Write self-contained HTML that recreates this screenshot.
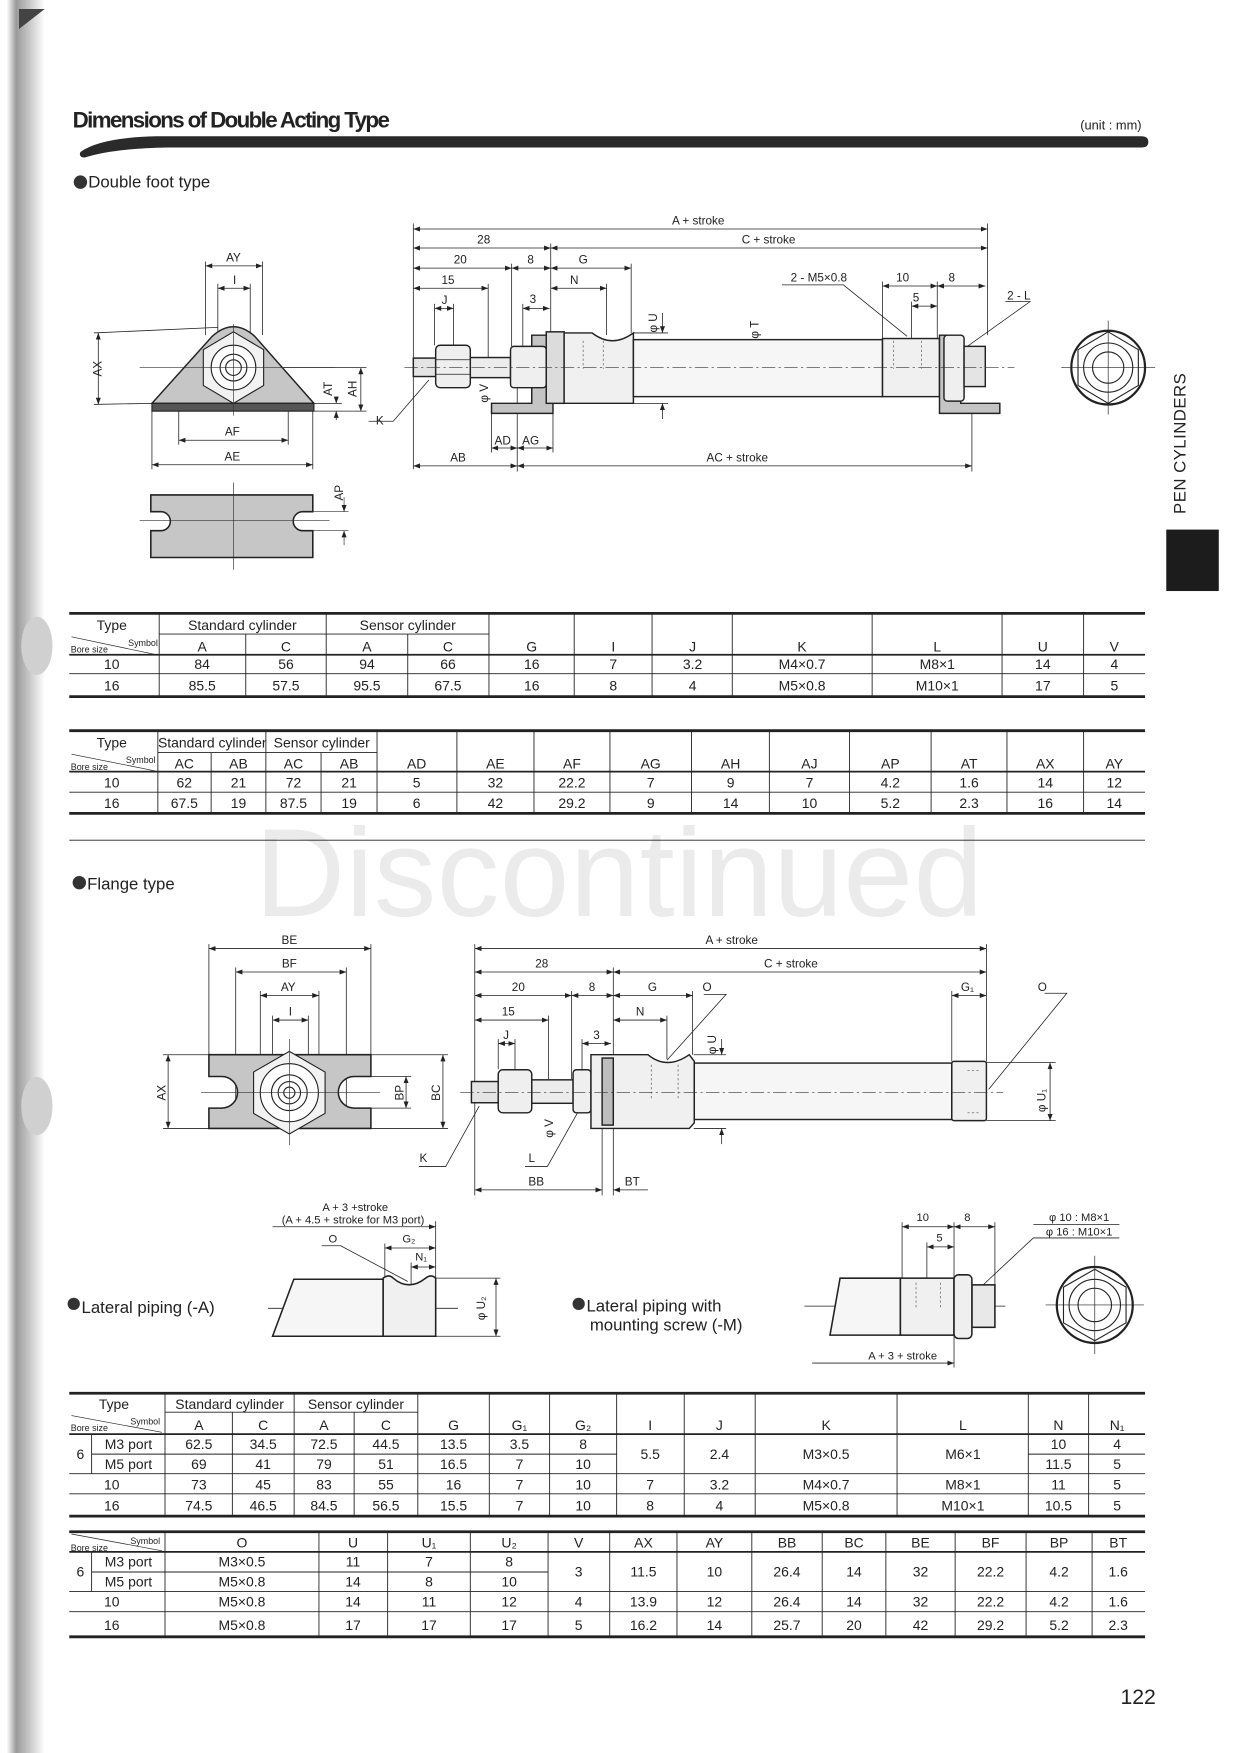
<!DOCTYPE html>
<html><head><meta charset="utf-8"><style>
html,body{margin:0;padding:0;background:#fff;}
svg{display:block;}
text{font-family:"Liberation Sans Narrow","Liberation Sans",sans-serif;fill:#222;}
</style></head><body>
<svg width="1240" height="1753" viewBox="0 0 1110 1569" preserveAspectRatio="none" xmlns="http://www.w3.org/2000/svg">
<defs>
<linearGradient id="edge" x1="0" x2="1" y1="0" y2="0">
<stop offset="0" stop-color="#fff"/><stop offset="0.25" stop-color="#9a9a9a"/><stop offset="0.6" stop-color="#c8c8c8"/><stop offset="1" stop-color="#fff"/>
</linearGradient>
<marker id="a" viewBox="0 0 8 6" refX="8" refY="3" markerWidth="6" markerHeight="4.5" orient="auto-start-reverse" markerUnits="userSpaceOnUse"><path d="M0,0 L8,3 L0,6 Z" fill="#222"/></marker>
</defs>
<rect width="1110" height="1569" fill="#fff"/>
<!-- left scan edge -->
<rect x="6" y="0" width="34" height="1569" fill="url(#edge)"/>
<path d="M17,8 L40,8 L17,26 Z" fill="#444"/>
<ellipse cx="33" cy="578" rx="14" ry="26" fill="#d0d0d0"/>
<ellipse cx="33" cy="990" rx="14" ry="26" fill="#d0d0d0"/>

<!-- title -->
<text x="65" y="114" font-size="20" font-weight="bold" textLength="284">Dimensions of Double Acting Type</text>
<text x="967" y="116" font-size="11.5">(unit : mm)</text>
<path d="M72,136 Q90,123 140,122 L1022,122 Q1028,122 1028,127 Q1028,132 1022,132 L150,132 Q100,133 76,141 Q70,141 72,136 Z" fill="#2a2a2a"/>

<circle cx="72" cy="163" r="6" fill="#333"/>
<text x="79" y="168" font-size="15">Double foot type</text>

<!-- right tab -->
<text transform="translate(1061,460) rotate(-90)" font-size="15" textLength="126">PEN CYLINDERS</text>
<rect x="1044" y="474" width="47" height="55" fill="#1c1c1c"/>

<!-- watermark -->
<text x="228" y="820" font-size="112" fill="#ebebeb" style="fill:#ebebeb" textLength="652" font-family="Liberation Sans, sans-serif">Discontinued</text>

<!-- ========== DOUBLE FOOT DRAWING ========== -->
<g stroke="#222" stroke-width="0.7" fill="none">
<!-- dims top -->
<line x1="370" y1="205" x2="884" y2="205" marker-start="url(#a)" marker-end="url(#a)"/>
<line x1="370" y1="222" x2="493" y2="222" marker-start="url(#a)" marker-end="url(#a)"/>
<line x1="493" y1="222" x2="884" y2="222" marker-start="url(#a)" marker-end="url(#a)"/>
<line x1="370" y1="240" x2="458" y2="240" marker-start="url(#a)" marker-end="url(#a)"/>
<line x1="458" y1="240" x2="493" y2="240" marker-start="url(#a)" marker-end="url(#a)"/>
<line x1="493" y1="240" x2="565" y2="240" marker-start="url(#a)" marker-end="url(#a)"/>
<line x1="370" y1="258" x2="437" y2="258" marker-start="url(#a)" marker-end="url(#a)"/>
<line x1="493" y1="258" x2="543" y2="258" marker-start="url(#a)" marker-end="url(#a)"/>
<line x1="790" y1="256" x2="839" y2="256" marker-start="url(#a)" marker-end="url(#a)"/>
<line x1="839" y1="256" x2="882" y2="256" marker-start="url(#a)" marker-end="url(#a)"/>
<line x1="389" y1="276" x2="406" y2="276" marker-start="url(#a)" marker-end="url(#a)"/>
<line x1="468" y1="276" x2="492" y2="276" marker-start="url(#a)" marker-end="url(#a)"/>
<line x1="816" y1="274" x2="839" y2="274" marker-start="url(#a)" marker-end="url(#a)"/>
<!-- extension lines -->
<line x1="370" y1="200" x2="370" y2="420"/>
<line x1="884" y1="200" x2="884" y2="300"/>
<line x1="493" y1="218" x2="493" y2="300"/>
<line x1="458" y1="236" x2="458" y2="310"/>
<line x1="565" y1="236" x2="565" y2="298"/>
<line x1="437" y1="254" x2="437" y2="320"/>
<line x1="543" y1="254" x2="543" y2="300"/>
<line x1="790" y1="252" x2="790" y2="303"/>
<line x1="839" y1="252" x2="839" y2="303"/>
<line x1="389" y1="272" x2="389" y2="309"/>
<line x1="406" y1="272" x2="406" y2="309"/>
<line x1="468" y1="272" x2="468" y2="310"/>
<line x1="816" y1="270" x2="816" y2="303"/>
<!-- bottom dims -->
<line x1="440" y1="401" x2="463" y2="401" marker-start="url(#a)" marker-end="url(#a)"/>
<line x1="463" y1="401" x2="495" y2="401" marker-start="url(#a)" marker-end="url(#a)"/>
<line x1="370" y1="417" x2="463" y2="417" marker-start="url(#a)" marker-end="url(#a)"/>
<line x1="463" y1="417" x2="870" y2="417" marker-start="url(#a)" marker-end="url(#a)"/>
<line x1="440" y1="370" x2="440" y2="405"/>
<line x1="463" y1="330" x2="463" y2="422"/>
<line x1="495" y1="370" x2="495" y2="405"/>
<line x1="870" y1="370" x2="870" y2="422"/>
<!-- phi dims -->
<line x1="593" y1="280" x2="593" y2="298" marker-end="url(#a)"/>
<line x1="593" y1="361" x2="593" y2="375" marker-start="url(#a)"/>
<line x1="567" y1="298" x2="598" y2="298"/>
<line x1="567" y1="361" x2="598" y2="361"/>
<line x1="682" y1="304" x2="682" y2="355" marker-start="url(#a)" marker-end="url(#a)"/>
<line x1="448" y1="320" x2="448" y2="338"/>
<!-- leaders -->
<polyline points="330,377 352,377 384,340"/>
<polyline points="700,255 755,255 812,301"/>
<polyline points="900,270 922,270 866,310" />
</g>
<g font-size="10.5" text-anchor="middle">
<text x="625" y="201">A + stroke</text>
<text x="433" y="218">28</text><text x="688" y="218">C + stroke</text>
<text x="412" y="236">20</text><text x="475" y="236">8</text><text x="522" y="236">G</text>
<text x="401" y="254">15</text><text x="514" y="254">N</text>
<text x="398" y="272">J</text><text x="477" y="271">3</text>
<text x="733" y="252">2 - M5×0.8</text><text x="808" y="252">10</text><text x="852" y="252">8</text>
<text x="820" y="270">5</text><text x="912" y="268">2 - L</text>
<text x="340" y="380">K</text>
<text x="450" y="398">AD</text><text x="475" y="398">AG</text>
<text x="410" y="413">AB</text><text x="660" y="413">AC + stroke</text>
<text transform="translate(588,289) rotate(-90)">φ U</text>
<text transform="translate(679,295) rotate(-90)">φ T</text>
<text transform="translate(437,352) rotate(-90)">φ V</text>
</g>
<!-- cylinder body -->
<g stroke="#222" stroke-width="1.3">
<rect x="370" y="320.5" width="20" height="16.5" fill="#e4e4e4"/>
<rect x="421" y="320" width="36" height="18" fill="#ececec"/>
<rect x="390" y="309" width="31" height="38" rx="4" fill="#efefef"/>
<line x1="390" y1="322" x2="421" y2="322" stroke-width="0.7"/><line x1="390" y1="335" x2="421" y2="335" stroke-width="0.7"/>
<polygon points="476,300 495,300 495,370 440,370 440,361 476,361" fill="#c4c4c4"/>
<rect x="457" y="310" width="32" height="37" rx="3" fill="#efefef"/>
<rect x="489" y="297" width="16" height="64" fill="#dcdcdc"/>
<path d="M505,298 L530,298 Q548,312 567,298 L567,361 L505,361 Z" fill="#f0f0f0"/>
<rect x="567" y="304" width="223" height="51" fill="#f6f6f6"/>
<rect x="790" y="303" width="51" height="52" fill="#f0f0f0"/>
<polygon points="841,300 860,300 860,361 895,361 895,370 841,370" fill="#c4c4c4"/>
<rect x="845" y="300" width="18" height="59" rx="3" fill="#efefef"/>
<rect x="863" y="310" width="19" height="36" fill="#e4e4e4"/>
</g>
<g stroke="#555" stroke-width="0.6" stroke-dasharray="2,2">
<line x1="522" y1="305" x2="522" y2="330"/><line x1="540" y1="305" x2="540" y2="330"/>
<line x1="800" y1="305" x2="800" y2="330"/><line x1="825" y1="305" x2="825" y2="330"/>
</g>
<line x1="362" y1="329" x2="908" y2="329" stroke="#333" stroke-width="0.6" stroke-dasharray="12,3,2,3"/>
<!-- end view -->
<g stroke="#222" fill="none">
<circle cx="992" cy="329" r="33" stroke-width="2"/>
<polygon points="992,297 1019,313 1019,345 992,361 965,345 965,313" stroke-width="1"/>
<circle cx="992" cy="329" r="22" stroke-width="1"/>
<circle cx="992" cy="329" r="14" stroke-width="1"/>
<line x1="950" y1="329" x2="1034" y2="329" stroke-width="0.6"/>
<line x1="992" y1="287" x2="992" y2="371" stroke-width="0.6"/>
</g>
<!-- foot front view -->
<g stroke="#222" fill="none" stroke-width="0.7">
<line x1="184" y1="238" x2="235" y2="238" marker-start="url(#a)" marker-end="url(#a)"/>
<line x1="195" y1="258" x2="224" y2="258" marker-start="url(#a)" marker-end="url(#a)"/>
<line x1="184" y1="234" x2="184" y2="300"/><line x1="235" y1="234" x2="235" y2="300"/>
<line x1="195" y1="254" x2="195" y2="310"/><line x1="224" y1="254" x2="224" y2="310"/>
<line x1="88" y1="298" x2="88" y2="362" marker-start="url(#a)" marker-end="url(#a)"/>
<line x1="84" y1="298" x2="195" y2="293"/><line x1="84" y1="362" x2="136" y2="361"/>
<line x1="301" y1="355" x2="301" y2="361" marker-end="url(#a)"/>
<line x1="301" y1="368" x2="301" y2="376" marker-start="url(#a)"/>
<line x1="323" y1="329" x2="323" y2="368" marker-start="url(#a)" marker-end="url(#a)"/>
<line x1="230" y1="329" x2="328" y2="329"/><line x1="281" y1="361" x2="306" y2="361"/><line x1="281" y1="368" x2="328" y2="368"/>
<line x1="160" y1="394" x2="258" y2="394" marker-start="url(#a)" marker-end="url(#a)"/>
<line x1="136" y1="416" x2="280" y2="416" marker-start="url(#a)" marker-end="url(#a)"/>
<line x1="160" y1="361" x2="160" y2="398"/><line x1="258" y1="361" x2="258" y2="398"/>
<line x1="136" y1="368" x2="136" y2="420"/><line x1="280" y1="368" x2="280" y2="420"/>
</g>
<path d="M136,361 L190,301 Q209,284 228,301 L281,361 Z" fill="#c6c6c6" stroke="#222" stroke-width="1.3"/>
<rect x="136" y="361" width="145" height="7" fill="#555" stroke="#222"/>
<g stroke="#222" stroke-width="1">
<polygon points="209,297 236,313 236,345 209,361 182,345 182,313" fill="#f2f2f2"/>
<circle cx="209" cy="329" r="20" fill="#fff"/><circle cx="209" cy="329" r="12" fill="#fff"/><circle cx="209" cy="329" r="7" fill="#fff"/>
</g>
<line x1="209" y1="290" x2="209" y2="372" stroke="#333" stroke-width="0.6"/>
<line x1="125" y1="329" x2="300" y2="329" stroke="#333" stroke-width="0.6"/>
<g font-size="10.5" text-anchor="middle">
<text x="209" y="234">AY</text><text x="210" y="254">I</text>
<text transform="translate(91,330) rotate(-90)">AX</text>
<text transform="translate(297,348) rotate(-90)">AT</text>
<text transform="translate(319,348) rotate(-90)">AH</text>
<text x="208" y="390">AF</text><text x="208" y="412">AE</text>
<text transform="translate(307,441) rotate(-90)">AP</text>
</g>
<!-- foot plate bottom view -->
<path d="M135,443 H280 V458 H271 A8.5,8.5 0 0 0 271,475 H280 V499 H135 V475 H144 A8.5,8.5 0 0 0 144,458 H135 Z" fill="#c6c6c6" stroke="#222" stroke-width="1.4"/>
<g stroke="#333" stroke-width="0.6" fill="none">
<line x1="209" y1="432" x2="209" y2="510"/><line x1="125" y1="466" x2="295" y2="466"/>
<line x1="280" y1="458" x2="312" y2="458"/><line x1="280" y1="475" x2="312" y2="475"/>
<line x1="308" y1="445" x2="308" y2="458" marker-end="url(#a)"/><line x1="308" y1="475" x2="308" y2="488" marker-start="url(#a)"/>
</g>

<!-- ========== TABLE 1 ========== -->
<g stroke="#222" fill="none">
<line x1="62" y1="549" x2="1025" y2="549" stroke-width="2.5"/>
<line x1="142.5" y1="567.5" x2="437.7" y2="567.5" stroke-width="0.8"/>
<line x1="62" y1="586" x2="1025" y2="586" stroke-width="1.6"/>
<line x1="62" y1="603" x2="1025" y2="603" stroke-width="0.8"/>
<line x1="62" y1="623.5" x2="1025" y2="623.5" stroke-width="2.5"/>
<line x1="64" y1="570" x2="140" y2="586" stroke-width="0.6"/>
<g stroke-width="0.8">
<line x1="142.5" y1="549" x2="142.5" y2="623"/><line x1="220" y1="567.5" x2="220" y2="623"/>
<line x1="292" y1="549" x2="292" y2="623"/><line x1="365" y1="567.5" x2="365" y2="623"/>
<line x1="437.7" y1="549" x2="437.7" y2="623"/><line x1="514" y1="549" x2="514" y2="623"/>
<line x1="583.7" y1="549" x2="583.7" y2="623"/><line x1="655.5" y1="549" x2="655.5" y2="623"/>
<line x1="780.7" y1="549" x2="780.7" y2="623"/><line x1="897" y1="549" x2="897" y2="623"/>
<line x1="970" y1="549" x2="970" y2="623"/>
</g></g>
<g font-size="12.5" text-anchor="middle">
<text x="100" y="564">Type</text><text x="217" y="564">Standard cylinder</text><text x="365" y="564">Sensor cylinder</text>
<text x="80" y="584" font-size="8">Bore size</text><text x="128" y="578" font-size="8">Symbol</text>
<text x="181" y="583">A</text><text x="256" y="583">C</text><text x="328.5" y="583">A</text><text x="401" y="583">C</text>
<text x="476" y="583">G</text><text x="549" y="583">I</text><text x="620" y="583">J</text><text x="718" y="583">K</text><text x="839" y="583">L</text><text x="933.5" y="583">U</text><text x="997.5" y="583">V</text>
<text x="100" y="599">10</text><text x="181" y="599">84</text><text x="256" y="599">56</text><text x="328.5" y="599">94</text><text x="401" y="599">66</text><text x="476" y="599">16</text><text x="549" y="599">7</text><text x="620" y="599">3.2</text><text x="718" y="599">M4×0.7</text><text x="839" y="599">M8×1</text><text x="933.5" y="599">14</text><text x="997.5" y="599">4</text>
<text x="100" y="618">16</text><text x="181" y="618">85.5</text><text x="256" y="618">57.5</text><text x="328.5" y="618">95.5</text><text x="401" y="618">67.5</text><text x="476" y="618">16</text><text x="549" y="618">8</text><text x="620" y="618">4</text><text x="718" y="618">M5×0.8</text><text x="839" y="618">M10×1</text><text x="933.5" y="618">17</text><text x="997.5" y="618">5</text>
</g>

<!-- ========== TABLE 2 ========== -->
<g stroke="#222" fill="none">
<line x1="62" y1="654" x2="1025" y2="654" stroke-width="2.5"/>
<line x1="141.3" y1="673.6" x2="337.5" y2="673.6" stroke-width="0.8"/>
<line x1="62" y1="690.6" x2="1025" y2="690.6" stroke-width="1.6"/>
<line x1="62" y1="709" x2="1025" y2="709" stroke-width="0.8"/>
<line x1="62" y1="728" x2="1025" y2="728" stroke-width="2.5"/>
<line x1="62" y1="752" x2="1025" y2="752" stroke-width="0.7"/>
<line x1="64" y1="675" x2="139" y2="690" stroke-width="0.6"/>
<g stroke-width="0.8">
<line x1="141.3" y1="654" x2="141.3" y2="728"/><line x1="189" y1="673.6" x2="189" y2="728"/>
<line x1="238" y1="654" x2="238" y2="728"/><line x1="287.4" y1="673.6" x2="287.4" y2="728"/>
<line x1="337.5" y1="654" x2="337.5" y2="728"/><line x1="409" y1="654" x2="409" y2="728"/>
<line x1="478" y1="654" x2="478" y2="728"/><line x1="546" y1="654" x2="546" y2="728"/>
<line x1="619" y1="654" x2="619" y2="728"/><line x1="688.7" y1="654" x2="688.7" y2="728"/>
<line x1="760.5" y1="654" x2="760.5" y2="728"/><line x1="833.5" y1="654" x2="833.5" y2="728"/>
<line x1="901.4" y1="654" x2="901.4" y2="728"/><line x1="970" y1="654" x2="970" y2="728"/>
</g></g>
<g font-size="12.5" text-anchor="middle">
<text x="100" y="669">Type</text><text x="190" y="669">Standard cylinder</text><text x="288" y="669">Sensor cylinder</text>
<text x="80" y="689" font-size="8">Bore size</text><text x="126" y="683" font-size="8">Symbol</text>
<text x="165" y="688">AC</text><text x="213.5" y="688">AB</text><text x="262.7" y="688">AC</text><text x="312.5" y="688">AB</text>
<text x="373" y="688">AD</text><text x="443.5" y="688">AE</text><text x="512" y="688">AF</text><text x="582.5" y="688">AG</text><text x="654" y="688">AH</text><text x="724.6" y="688">AJ</text><text x="797" y="688">AP</text><text x="867.5" y="688">AT</text><text x="935.7" y="688">AX</text><text x="997.5" y="688">AY</text>
<text x="100" y="705">10</text><text x="165" y="705">62</text><text x="213.5" y="705">21</text><text x="262.7" y="705">72</text><text x="312.5" y="705">21</text><text x="373" y="705">5</text><text x="443.5" y="705">32</text><text x="512" y="705">22.2</text><text x="582.5" y="705">7</text><text x="654" y="705">9</text><text x="724.6" y="705">7</text><text x="797" y="705">4.2</text><text x="867.5" y="705">1.6</text><text x="935.7" y="705">14</text><text x="997.5" y="705">12</text>
<text x="100" y="723">16</text><text x="165" y="723">67.5</text><text x="213.5" y="723">19</text><text x="262.7" y="723">87.5</text><text x="312.5" y="723">19</text><text x="373" y="723">6</text><text x="443.5" y="723">42</text><text x="512" y="723">29.2</text><text x="582.5" y="723">9</text><text x="654" y="723">14</text><text x="724.6" y="723">10</text><text x="797" y="723">5.2</text><text x="867.5" y="723">2.3</text><text x="935.7" y="723">16</text><text x="997.5" y="723">14</text>
</g>

<circle cx="71" cy="790" r="6" fill="#333"/>
<text x="78" y="796" font-size="15">Flange type</text>

<!-- ========== FLANGE DRAWING ========== -->
<g stroke="#222" stroke-width="0.7" fill="none">
<line x1="187" y1="849" x2="332" y2="849" marker-start="url(#a)" marker-end="url(#a)"/>
<line x1="211" y1="870" x2="310" y2="870" marker-start="url(#a)" marker-end="url(#a)"/>
<line x1="233" y1="891" x2="285.5" y2="891" marker-start="url(#a)" marker-end="url(#a)"/>
<line x1="244" y1="913" x2="276" y2="913" marker-start="url(#a)" marker-end="url(#a)"/>
<line x1="187" y1="845" x2="187" y2="944"/><line x1="332" y1="845" x2="332" y2="944"/>
<line x1="211" y1="866" x2="211" y2="1010"/><line x1="310" y1="866" x2="310" y2="1010"/>
<line x1="233" y1="887" x2="233" y2="960"/><line x1="285.5" y1="887" x2="285.5" y2="960"/>
<line x1="244" y1="909" x2="244" y2="965"/><line x1="276" y1="909" x2="276" y2="965"/>
<line x1="150.5" y1="944" x2="150.5" y2="1010" marker-start="url(#a)" marker-end="url(#a)"/>
<line x1="146" y1="944" x2="187" y2="944"/><line x1="146" y1="1010" x2="187" y2="1010"/>
<line x1="363.5" y1="963.5" x2="363.5" y2="991.8" marker-start="url(#a)" marker-end="url(#a)"/>
<line x1="396.5" y1="944" x2="396.5" y2="1010" marker-start="url(#a)" marker-end="url(#a)"/>
<line x1="332" y1="963.5" x2="368" y2="963.5"/><line x1="332" y1="991.8" x2="368" y2="991.8"/>
<line x1="332" y1="944" x2="401" y2="944"/><line x1="332" y1="1010" x2="401" y2="1010"/>
<!-- cylinder dims -->
<line x1="425" y1="849" x2="883" y2="849" marker-start="url(#a)" marker-end="url(#a)"/>
<line x1="425" y1="870" x2="549" y2="870" marker-start="url(#a)" marker-end="url(#a)"/>
<line x1="549" y1="870" x2="883" y2="870" marker-start="url(#a)" marker-end="url(#a)"/>
<line x1="425" y1="891" x2="511.7" y2="891" marker-start="url(#a)" marker-end="url(#a)"/>
<line x1="511.7" y1="891" x2="549" y2="891" marker-start="url(#a)" marker-end="url(#a)"/>
<line x1="549" y1="891" x2="620" y2="891" marker-start="url(#a)" marker-end="url(#a)"/>
<line x1="852" y1="891" x2="883" y2="891" marker-start="url(#a)" marker-end="url(#a)"/>
<line x1="425" y1="913" x2="491" y2="913" marker-start="url(#a)" marker-end="url(#a)"/>
<line x1="549" y1="913" x2="597" y2="913" marker-start="url(#a)" marker-end="url(#a)"/>
<line x1="446" y1="934" x2="461" y2="934" marker-start="url(#a)" marker-end="url(#a)"/>
<line x1="521" y1="934" x2="547" y2="934" marker-start="url(#a)" marker-end="url(#a)"/>
<line x1="425" y1="845" x2="425" y2="1070"/><line x1="883" y1="845" x2="883" y2="950"/>
<line x1="549" y1="866" x2="549" y2="1070"/><line x1="511.7" y1="887" x2="511.7" y2="966"/>
<line x1="620" y1="887" x2="620" y2="944"/><line x1="852" y1="887" x2="852" y2="950"/>
<line x1="491" y1="909" x2="491" y2="966"/><line x1="597" y1="909" x2="597" y2="948"/>
<line x1="446" y1="930" x2="446" y2="957"/><line x1="461" y1="930" x2="461" y2="957"/>
<line x1="521" y1="930" x2="521" y2="957"/><line x1="539" y1="1010" x2="539" y2="1070"/>
<line x1="425" y1="1065" x2="539" y2="1065" marker-start="url(#a)" marker-end="url(#a)"/>
<line x1="549" y1="1065" x2="580" y2="1065" marker-start="url(#a)"/>
<line x1="621" y1="944" x2="650" y2="944"/><line x1="621" y1="1010" x2="650" y2="1010"/>
<line x1="646" y1="930" x2="646" y2="944" marker-end="url(#a)"/><line x1="646" y1="1010" x2="646" y2="1024" marker-start="url(#a)"/>
<line x1="883" y1="951" x2="945" y2="951"/><line x1="883" y1="1003" x2="945" y2="1003"/>
<line x1="940" y1="951" x2="940" y2="1003" marker-start="url(#a)" marker-end="url(#a)"/>
<line x1="499" y1="985" x2="499" y2="966.5" marker-end="url(#a)"/>
<polyline points="630,890 650,890 597,949"/>
<polyline points="935,889 955,889 885,975"/>
<polyline points="375,1044 399,1044 429,990"/>
<polyline points="470,1044 490,1044 517,996"/>
</g>
<path d="M187,944 H332 V963.5 H317 A14,14 0 0 0 317,991.8 H332 V1010 H187 V991.8 H198.5 A14,14 0 0 0 198.5,963.5 H187 Z" fill="#c6c6c6" stroke="#222" stroke-width="1.4"/>
<g stroke="#222" stroke-width="1">
<polygon points="259,941 291,959.5 291,996.5 259,1015 227,996.5 227,959.5" fill="#f2f2f2"/>
<circle cx="259" cy="978" r="26" fill="#fff"/><circle cx="259" cy="978" r="16" fill="#fff"/><circle cx="259" cy="978" r="10" fill="#fff"/><circle cx="259" cy="978" r="5" fill="#fff"/>
</g>
<line x1="259" y1="930" x2="259" y2="1025" stroke="#333" stroke-width="0.6"/>
<line x1="180" y1="978" x2="340" y2="978" stroke="#333" stroke-width="0.6"/>
<g stroke="#222" stroke-width="1.3">
<rect x="422" y="968" width="24" height="19" fill="#e4e4e4"/>
<rect x="476" y="966.5" width="37" height="21" fill="#ececec"/>
<rect x="446" y="957.5" width="30" height="38.5" rx="4" fill="#efefef"/>
<rect x="513" y="957.5" width="16" height="38.5" rx="3" fill="#efefef"/>
<path d="M529,944 L580,944 Q597,958 617,944 L621.5,950 L621.5,1005 L617,1010 L529,1010 Z" fill="#f0f0f0"/>
<rect x="539" y="947" width="10" height="60" fill="#bdbdbd"/>
<rect x="621.5" y="951.5" width="230.5" height="50.5" fill="#f6f6f6"/>
<rect x="852" y="950" width="31" height="53" rx="2" fill="#f0f0f0"/>
</g>
<g stroke="#555" stroke-width="0.6" stroke-dasharray="2,2">
<line x1="583" y1="953" x2="583" y2="985"/><line x1="607" y1="953" x2="607" y2="985"/>
<line x1="866" y1="958" x2="878" y2="958"/><line x1="866" y1="996" x2="878" y2="996"/>
</g>
<line x1="412" y1="978" x2="898" y2="978" stroke="#333" stroke-width="0.6" stroke-dasharray="12,3,2,3"/>
<g font-size="10.5" text-anchor="middle">
<text x="259" y="845">BE</text><text x="259" y="866">BF</text><text x="258" y="887">AY</text><text x="260" y="909">I</text>
<text transform="translate(148,978) rotate(-90)">AX</text>
<text transform="translate(361,978) rotate(-90)">BP</text>
<text transform="translate(394,978) rotate(-90)">BC</text>
<text x="655" y="845">A + stroke</text>
<text x="485" y="866">28</text><text x="708" y="866">C + stroke</text>
<text x="464" y="887">20</text><text x="530" y="887">8</text><text x="584" y="887">G</text><text x="633" y="887">O</text>
<text x="866" y="887">G₁</text><text x="933" y="887">O</text>
<text x="455" y="909">15</text><text x="573" y="909">N</text>
<text x="453" y="930">J</text><text x="534" y="930">3</text>
<text transform="translate(641,935) rotate(-90)">φ U</text>
<text transform="translate(936,985) rotate(-90)">φ U₁</text>
<text transform="translate(495,1010) rotate(-90)">φ V</text>
<text x="379" y="1040">K</text><text x="476" y="1040">L</text>
<text x="480" y="1061">BB</text><text x="566" y="1061">BT</text>
</g>

<!-- ========== LATERAL PIPING ========== -->
<circle cx="66" cy="1167" r="5.5" fill="#333"/>
<text x="73" y="1175" font-size="15">Lateral piping (-A)</text>
<circle cx="518" cy="1167" r="5.5" fill="#333"/>
<text x="525" y="1174" font-size="15">Lateral piping with</text>
<text x="528" y="1191" font-size="15">mounting screw (-M)</text>
<g stroke="#222" stroke-width="0.7" fill="none">
<line x1="244" y1="1098" x2="390" y2="1098" marker-end="url(#a)"/>
<line x1="390" y1="1093" x2="390" y2="1144"/><line x1="344.5" y1="1113" x2="344.5" y2="1147"/><line x1="368" y1="1130" x2="368" y2="1150"/>
<line x1="344.5" y1="1117" x2="390" y2="1117" marker-start="url(#a)" marker-end="url(#a)"/>
<line x1="368" y1="1134" x2="390" y2="1134" marker-start="url(#a)" marker-end="url(#a)"/>
<polyline points="288,1115 305,1115 365,1147"/>
<line x1="390" y1="1144" x2="448" y2="1144"/><line x1="390" y1="1196" x2="448" y2="1196"/>
<line x1="444" y1="1144" x2="444" y2="1196" marker-start="url(#a)" marker-end="url(#a)"/>
<line x1="240" y1="1171" x2="410" y2="1171"/>
</g>
<g stroke="#222" stroke-width="1.4">
<path d="M263,1145 L343,1145 L343,1196 L244,1196 Z" fill="#f6f6f6"/>
<path d="M343,1144 Q348,1140 352,1144 Q366,1156 381,1144 Q386,1140 390,1144 L390,1196 L343,1196 Z" fill="#f0f0f0"/>
</g>
<g font-size="10" text-anchor="middle">
<text x="318" y="1084">A + 3 +stroke</text>
<text x="316" y="1095">(A + 4.5 + stroke for M3 port)</text>
<text x="298" y="1112">O</text><text x="366" y="1112">G₂</text><text x="377" y="1128">N₁</text>
<text transform="translate(434,1171) rotate(-90)" font-size="10.5">φ U₂</text>
</g>
<g stroke="#222" stroke-width="0.7" fill="none">
<line x1="807.5" y1="1098" x2="854" y2="1098" marker-start="url(#a)" marker-end="url(#a)"/>
<line x1="854" y1="1098" x2="890.6" y2="1098" marker-start="url(#a)" marker-end="url(#a)"/>
<line x1="829.7" y1="1116" x2="854" y2="1116" marker-start="url(#a)" marker-end="url(#a)"/>
<line x1="807.5" y1="1094" x2="807.5" y2="1144"/><line x1="854" y1="1094" x2="854" y2="1224"/><line x1="890.6" y1="1094" x2="890.6" y2="1152"/>
<line x1="829.7" y1="1112" x2="829.7" y2="1150"/>
<line x1="727" y1="1220" x2="854" y2="1220" marker-end="url(#a)"/>
<polyline points="1002,1108 925,1108 879,1151"/>
<line x1="925" y1="1096" x2="1002" y2="1096"/>
<line x1="720" y1="1169" x2="900" y2="1169"/>
</g>
<g stroke="#222" stroke-width="1.4">
<path d="M752,1144 L806,1144 L806,1195 L743,1195 Z" fill="#f6f6f6"/>
<rect x="806" y="1144" width="48" height="51" fill="#f0f0f0"/>
<rect x="870" y="1150" width="20.6" height="38" fill="#e8e8e8"/>
<rect x="854" y="1141" width="16" height="57" rx="4" fill="#efefef"/>
</g>
<g stroke="#555" stroke-width="0.6" stroke-dasharray="2,2"><line x1="820" y1="1148" x2="820" y2="1170"/><line x1="842" y1="1148" x2="842" y2="1170"/></g>
<g font-size="10" text-anchor="middle">
<text x="826" y="1093">10</text><text x="866" y="1093">8</text><text x="841" y="1111">5</text>
<text x="966" y="1093">φ 10 : M8×1</text><text x="966" y="1106">φ 16 : M10×1</text>
<text x="808" y="1217">A + 3 + stroke</text>
</g>
<g stroke="#222" fill="none">
<circle cx="980" cy="1168" r="34" stroke-width="2"/>
<polygon points="980,1136 1008,1152 1008,1184 980,1200 952,1184 952,1152" stroke-width="1"/>
<circle cx="980" cy="1168" r="23" stroke-width="1"/>
<circle cx="980" cy="1168" r="15" stroke-width="1"/>
<line x1="936" y1="1168" x2="1024" y2="1168" stroke-width="0.6"/>
<line x1="980" y1="1124" x2="980" y2="1212" stroke-width="0.6"/>
</g>

<!-- ========== TABLE 3 ========== -->
<g stroke="#222" fill="none">
<line x1="62" y1="1247" x2="1025" y2="1247" stroke-width="2.5"/>
<line x1="147.7" y1="1264" x2="374" y2="1264" stroke-width="0.8"/>
<line x1="62" y1="1283.6" x2="1025" y2="1283.6" stroke-width="1.6"/>
<line x1="82" y1="1301.5" x2="552" y2="1301.5" stroke-width="0.8"/>
<line x1="920.5" y1="1301.5" x2="1025" y2="1301.5" stroke-width="0.8"/>
<line x1="62" y1="1319" x2="1025" y2="1319" stroke-width="0.8"/>
<line x1="62" y1="1337" x2="1025" y2="1337" stroke-width="0.8"/>
<line x1="62" y1="1357" x2="1025" y2="1357" stroke-width="2.5"/>
<line x1="64" y1="1267" x2="145" y2="1282" stroke-width="0.6"/>
<g stroke-width="0.8">
<line x1="82" y1="1283.6" x2="82" y2="1319"/>
<line x1="147.7" y1="1247" x2="147.7" y2="1357"/><line x1="208" y1="1264" x2="208" y2="1357"/>
<line x1="263.3" y1="1247" x2="263.3" y2="1357"/><line x1="317" y1="1264" x2="317" y2="1357"/>
<line x1="374" y1="1247" x2="374" y2="1357"/><line x1="438" y1="1247" x2="438" y2="1357"/>
<line x1="492" y1="1247" x2="492" y2="1357"/><line x1="552" y1="1247" x2="552" y2="1357"/>
<line x1="612.5" y1="1247" x2="612.5" y2="1357"/><line x1="676" y1="1247" x2="676" y2="1357"/>
<line x1="803" y1="1247" x2="803" y2="1357"/><line x1="920.5" y1="1247" x2="920.5" y2="1357"/>
<line x1="974.5" y1="1247" x2="974.5" y2="1357"/>
</g></g>
<g font-size="12.5" text-anchor="middle">
<text x="102" y="1261">Type</text><text x="205.5" y="1261">Standard cylinder</text><text x="318.6" y="1261">Sensor cylinder</text>
<text x="80" y="1281" font-size="8">Bore size</text><text x="130" y="1275" font-size="8">Symbol</text>
<text x="178" y="1280">A</text><text x="235.6" y="1280">C</text><text x="290" y="1280">A</text><text x="345.5" y="1280">C</text>
<text x="406" y="1280">G</text><text x="465" y="1280">G₁</text><text x="522" y="1280">G₂</text><text x="582" y="1280">I</text><text x="644" y="1280">J</text><text x="739.5" y="1280">K</text><text x="862" y="1280">L</text><text x="947.5" y="1280">N</text><text x="1000" y="1280">N₁</text>
<text x="72" y="1306">6</text>
<text x="115" y="1297">M3 port</text><text x="178" y="1297">62.5</text><text x="235.6" y="1297">34.5</text><text x="290" y="1297">72.5</text><text x="345.5" y="1297">44.5</text><text x="406" y="1297">13.5</text><text x="465" y="1297">3.5</text><text x="522" y="1297">8</text><text x="947.5" y="1297">10</text><text x="1000" y="1297">4</text>
<text x="115" y="1315">M5 port</text><text x="178" y="1315">69</text><text x="235.6" y="1315">41</text><text x="290" y="1315">79</text><text x="345.5" y="1315">51</text><text x="406" y="1315">16.5</text><text x="465" y="1315">7</text><text x="522" y="1315">10</text><text x="947.5" y="1315">11.5</text><text x="1000" y="1315">5</text>
<text x="582" y="1306">5.5</text><text x="644" y="1306">2.4</text><text x="739.5" y="1306">M3×0.5</text><text x="862" y="1306">M6×1</text>
<text x="100" y="1333">10</text><text x="178" y="1333">73</text><text x="235.6" y="1333">45</text><text x="290" y="1333">83</text><text x="345.5" y="1333">55</text><text x="406" y="1333">16</text><text x="465" y="1333">7</text><text x="522" y="1333">10</text><text x="582" y="1333">7</text><text x="644" y="1333">3.2</text><text x="739.5" y="1333">M4×0.7</text><text x="862" y="1333">M8×1</text><text x="947.5" y="1333">11</text><text x="1000" y="1333">5</text>
<text x="100" y="1352">16</text><text x="178" y="1352">74.5</text><text x="235.6" y="1352">46.5</text><text x="290" y="1352">84.5</text><text x="345.5" y="1352">56.5</text><text x="406" y="1352">15.5</text><text x="465" y="1352">7</text><text x="522" y="1352">10</text><text x="582" y="1352">8</text><text x="644" y="1352">4</text><text x="739.5" y="1352">M5×0.8</text><text x="862" y="1352">M10×1</text><text x="947.5" y="1352">10.5</text><text x="1000" y="1352">5</text>
</g>

<!-- ========== TABLE 4 ========== -->
<g stroke="#222" fill="none">
<line x1="62" y1="1371" x2="1025" y2="1371" stroke-width="2.5"/>
<line x1="62" y1="1389" x2="1025" y2="1389" stroke-width="1.6"/>
<line x1="82" y1="1407" x2="490.6" y2="1407" stroke-width="0.8"/>
<line x1="62" y1="1424.5" x2="1025" y2="1424.5" stroke-width="0.8"/>
<line x1="62" y1="1442.5" x2="1025" y2="1442.5" stroke-width="0.8"/>
<line x1="62" y1="1465" x2="1025" y2="1465" stroke-width="2.5"/>
<line x1="64" y1="1373" x2="145" y2="1388" stroke-width="0.6"/>
<g stroke-width="0.8">
<line x1="82" y1="1389" x2="82" y2="1424.5"/>
<line x1="147.7" y1="1371" x2="147.7" y2="1465"/><line x1="285.5" y1="1371" x2="285.5" y2="1465"/>
<line x1="347" y1="1371" x2="347" y2="1465"/><line x1="421" y1="1371" x2="421" y2="1465"/>
<line x1="490.6" y1="1371" x2="490.6" y2="1465"/><line x1="545.8" y1="1371" x2="545.8" y2="1465"/>
<line x1="606" y1="1371" x2="606" y2="1465"/><line x1="673" y1="1371" x2="673" y2="1465"/>
<line x1="736" y1="1371" x2="736" y2="1465"/><line x1="793" y1="1371" x2="793" y2="1465"/>
<line x1="855" y1="1371" x2="855" y2="1465"/><line x1="918.5" y1="1371" x2="918.5" y2="1465"/>
<line x1="977.6" y1="1371" x2="977.6" y2="1465"/>
</g></g>
<g font-size="12.5" text-anchor="middle">
<text x="80" y="1388" font-size="8">Bore size</text><text x="130" y="1382" font-size="8">Symbol</text>
<text x="216.6" y="1385">O</text><text x="316" y="1385">U</text><text x="384" y="1385">U₁</text><text x="455.8" y="1385">U₂</text><text x="518" y="1385">V</text><text x="576" y="1385">AX</text><text x="639.5" y="1385">AY</text><text x="704.5" y="1385">BB</text><text x="764.5" y="1385">BC</text><text x="824" y="1385">BE</text><text x="886.7" y="1385">BF</text><text x="948" y="1385">BP</text><text x="1001" y="1385">BT</text>
<text x="72" y="1411">6</text>
<text x="115" y="1402">M3 port</text><text x="216.6" y="1402">M3×0.5</text><text x="316" y="1402">11</text><text x="384" y="1402">7</text><text x="455.8" y="1402">8</text>
<text x="115" y="1420">M5 port</text><text x="216.6" y="1420">M5×0.8</text><text x="316" y="1420">14</text><text x="384" y="1420">8</text><text x="455.8" y="1420">10</text>
<text x="518" y="1411">3</text><text x="576" y="1411">11.5</text><text x="639.5" y="1411">10</text><text x="704.5" y="1411">26.4</text><text x="764.5" y="1411">14</text><text x="824" y="1411">32</text><text x="886.7" y="1411">22.2</text><text x="948" y="1411">4.2</text><text x="1001" y="1411">1.6</text>
<text x="100" y="1438">10</text><text x="216.6" y="1438">M5×0.8</text><text x="316" y="1438">14</text><text x="384" y="1438">11</text><text x="455.8" y="1438">12</text><text x="518" y="1438">4</text><text x="576" y="1438">13.9</text><text x="639.5" y="1438">12</text><text x="704.5" y="1438">26.4</text><text x="764.5" y="1438">14</text><text x="824" y="1438">32</text><text x="886.7" y="1438">22.2</text><text x="948" y="1438">4.2</text><text x="1001" y="1438">1.6</text>
<text x="100" y="1459">16</text><text x="216.6" y="1459">M5×0.8</text><text x="316" y="1459">17</text><text x="384" y="1459">17</text><text x="455.8" y="1459">17</text><text x="518" y="1459">5</text><text x="576" y="1459">16.2</text><text x="639.5" y="1459">14</text><text x="704.5" y="1459">25.7</text><text x="764.5" y="1459">20</text><text x="824" y="1459">42</text><text x="886.7" y="1459">29.2</text><text x="948" y="1459">5.2</text><text x="1001" y="1459">2.3</text>
</g>

<text x="1003" y="1525" font-size="19" font-family="Liberation Sans, sans-serif">122</text>
</svg>
</body></html>
